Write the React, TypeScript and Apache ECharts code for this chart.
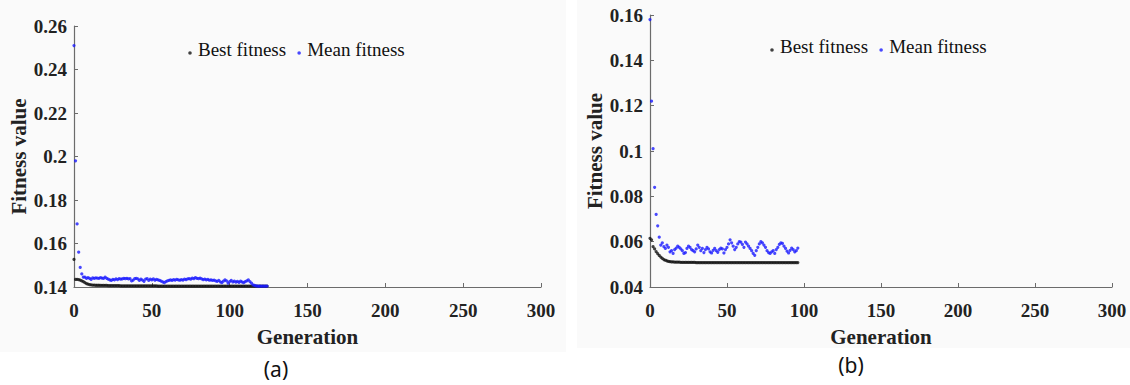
import React, { useEffect, useRef } from "react";
import * as echarts from "echarts";

// ---- Data: panel (a) ----
const bestA = [
  0.1527, 0.1435, 0.1435, 0.1434, 0.1432, 0.1428, 0.1425, 0.1420, 0.1416, 0.1413,
  0.1411, 0.1410, 0.1409, 0.1409, 0.1408, 0.1408, 0.1408, 0.1407, 0.1407, 0.1407,
  0.1407, 0.1407, 0.1406, 0.1406, 0.1406, 0.1406, 0.1406, 0.1406, 0.1406, 0.1406,
  0.1405, 0.1405, 0.1405, 0.1405, 0.1405, 0.1405, 0.1405, 0.1405, 0.1405, 0.1405,
  0.1405, 0.1405, 0.1405, 0.1405, 0.1405, 0.1405, 0.1405, 0.1405, 0.1405, 0.1405,
  0.1405, 0.1405, 0.1405, 0.1405, 0.1404, 0.1404, 0.1404, 0.1404, 0.1404, 0.1404,
  0.1404, 0.1404, 0.1404, 0.1404, 0.1404, 0.1404, 0.1404, 0.1404, 0.1404, 0.1404,
  0.1404, 0.1404, 0.1404, 0.1404, 0.1404, 0.1404, 0.1404, 0.1404, 0.1404, 0.1404,
  0.1404, 0.1404, 0.1404, 0.1404, 0.1404, 0.1404, 0.1404, 0.1404, 0.1404, 0.1404,
  0.1404, 0.1404, 0.1404, 0.1404, 0.1404, 0.1404, 0.1404, 0.1404, 0.1404, 0.1404,
  0.1404, 0.1404, 0.1404, 0.1404, 0.1404, 0.1404, 0.1404, 0.1404, 0.1404, 0.1404,
  0.1404, 0.1404, 0.1404, 0.1404, 0.1404, 0.1404, 0.1404, 0.1404, 0.1404, 0.1404,
  0.1404, 0.1404, 0.1404, 0.1404, 0.1404,
];
const meanA = [
  0.251, 0.198, 0.169, 0.156, 0.149, 0.146, 0.1445, 0.1445, 0.1440, 0.1443,
  0.1440, 0.1435, 0.1442, 0.1440, 0.1442, 0.1441, 0.1440, 0.1443, 0.1441, 0.1440,
  0.1445, 0.1440, 0.1436, 0.1433, 0.1430, 0.1435, 0.1433, 0.1437, 0.1434, 0.1438,
  0.1436, 0.1437, 0.1440, 0.1438, 0.1440, 0.1437, 0.1439, 0.1428, 0.1432, 0.1438,
  0.1440, 0.1437, 0.1430, 0.1436, 0.1432, 0.1426, 0.1436, 0.1438, 0.1430, 0.1436,
  0.1433, 0.1437, 0.1431, 0.1435, 0.1433, 0.1430, 0.1427, 0.1424, 0.1420, 0.1425,
  0.1428, 0.1430, 0.1433, 0.1430, 0.1434, 0.1432, 0.1435, 0.1433, 0.1431, 0.1434,
  0.1432, 0.1436, 0.1434, 0.1437, 0.1439, 0.1436, 0.1441, 0.1438, 0.1443, 0.1440,
  0.1438, 0.1441, 0.1437, 0.1434, 0.1436, 0.1433, 0.1435, 0.1431, 0.1433, 0.1430,
  0.1432, 0.1428, 0.1426, 0.1430, 0.1424, 0.1420, 0.1427, 0.1433, 0.1428, 0.1418,
  0.1425, 0.1430, 0.1423, 0.1427, 0.1422, 0.1426, 0.1421, 0.1427, 0.1423, 0.1420,
  0.1425, 0.1428, 0.1433, 0.1425, 0.1418, 0.1410, 0.1407, 0.1405, 0.1404, 0.1404,
  0.1404, 0.1404, 0.1404, 0.1404, 0.1404,
];

// ---- Data: panel (b) ----
const bestB = [
  0.0615, 0.0608, 0.0578, 0.0568, 0.0556, 0.0547, 0.0539, 0.0532, 0.0526, 0.0521,
  0.0518, 0.0515, 0.0513, 0.0512, 0.0511, 0.0511, 0.0510, 0.0510, 0.0510, 0.0510,
  0.0509, 0.0509, 0.0509, 0.0509, 0.0509, 0.0509, 0.0509, 0.0509, 0.0509, 0.0509,
  0.0508, 0.0508, 0.0508, 0.0508, 0.0508, 0.0508, 0.0508, 0.0508, 0.0508, 0.0508,
  0.0508, 0.0508, 0.0508, 0.0508, 0.0508, 0.0508, 0.0508, 0.0508, 0.0508, 0.0508,
  0.0508, 0.0508, 0.0508, 0.0508, 0.0508, 0.0508, 0.0508, 0.0508, 0.0508, 0.0508,
  0.0508, 0.0508, 0.0508, 0.0508, 0.0508, 0.0508, 0.0508, 0.0508, 0.0508, 0.0508,
  0.0508, 0.0508, 0.0508, 0.0508, 0.0508, 0.0508, 0.0508, 0.0508, 0.0508, 0.0508,
  0.0508, 0.0508, 0.0508, 0.0508, 0.0508, 0.0508, 0.0508, 0.0508, 0.0508, 0.0508,
  0.0508, 0.0508, 0.0508, 0.0508, 0.0508, 0.0508, 0.0508,
];
const meanB = [
  0.158, 0.122, 0.101, 0.084, 0.072, 0.067, 0.062, 0.0585, 0.0595, 0.0578,
  0.0570, 0.0585, 0.0575, 0.0555, 0.0560, 0.0548, 0.0565, 0.0572, 0.0580, 0.0575,
  0.0568, 0.0560, 0.0548, 0.0552, 0.0570, 0.0580, 0.0575, 0.0565, 0.0560, 0.0555,
  0.0568, 0.0585, 0.0575, 0.0560, 0.0570, 0.0552, 0.0565, 0.0575, 0.0568, 0.0555,
  0.0550, 0.0562, 0.0570, 0.0560, 0.0553, 0.0565, 0.0572, 0.0568, 0.0550, 0.0565,
  0.0575, 0.0590, 0.0608, 0.0595, 0.0580, 0.0565, 0.0575, 0.0590, 0.0600, 0.0598,
  0.0588, 0.0575, 0.0598, 0.0590, 0.0580, 0.0570, 0.0560, 0.0548, 0.0540, 0.0560,
  0.0575, 0.0590, 0.0600, 0.0595, 0.0585, 0.0575, 0.0560, 0.0552, 0.0548, 0.0555,
  0.0560, 0.0548, 0.0565, 0.0575, 0.0588, 0.0595, 0.0592, 0.0580, 0.0570, 0.0558,
  0.0550, 0.0562, 0.0572, 0.0565, 0.0555, 0.0560, 0.0572,
];

const xTicks = { min: 0, max: 300, interval: 50 };
const yRangeA = { min: 0.14, max: 0.26, interval: 0.02 };
const yRangeB = { min: 0.04, max: 0.16, interval: 0.02 };
const seriesNames = ["Best fitness", "Mean fitness"];
const panelLabels = ["(a)", "(b)"];

const SERIF = "'Liberation Serif', 'Times New Roman', serif";
// legend marker: a dot sitting low in a tall, otherwise empty box (like a "." glyph)
const DOT_ICON =
  "path://M0,0L6,0L6,0.01L0,0.01Z M1.2,14a1.8,1.8 0 1,0 3.6,0a1.8,1.8 0 1,0 -3.6,0Z M0,20L6,20L6,20.01L0,20.01Z";

export default function App() {
  const ref = useRef<HTMLDivElement>(null);

  useEffect(() => {
    document.body.style.margin = "0";
    if (!ref.current) return;
    const chart = echarts.init(ref.current, undefined, { renderer: "svg" });

    const toPts = (arr: number[]) => arr.map((v, i) => [i, v]);
    const fmt = (v: number) => String(+v.toFixed(2));

    const axisLine = { show: true, lineStyle: { color: "#6b6b6b", width: 1.2 } };
    const axisTick = { show: true, inside: true, length: 4, lineStyle: { color: "#6b6b6b" } };
    const tickLabel = {
      fontFamily: SERIF,
      fontWeight: "bold" as const,
      fontSize: 19,
      color: "#222",
    };
    const nameStyle = {
      fontFamily: SERIF,
      fontWeight: "bold" as const,
      fontSize: 21,
      color: "#222",
    };

    const mkX = (gridIndex: number) => ({
      type: "value" as const,
      gridIndex,
      ...xTicks,
      axisLine,
      axisTick,
      splitLine: { show: false },
      axisLabel: { ...tickLabel, margin: 14 },
      name: "Generation",
      nameLocation: "middle" as const,
      nameGap: 39,
      nameTextStyle: nameStyle,
    });
    const mkY = (gridIndex: number, r: typeof yRangeA) => ({
      type: "value" as const,
      gridIndex,
      ...r,
      axisLine,
      axisTick,
      splitLine: { show: false },
      axisLabel: { ...tickLabel, margin: 7, formatter: fmt },
      name: "Fitness value",
      nameLocation: "middle" as const,
      nameGap: 45,
      nameTextStyle: nameStyle,
    });

    const legendCommon = {
      orient: "horizontal" as const,
      icon: DOT_ICON,
      itemWidth: 6,
      itemHeight: 20,
      itemGap: 10,
      data: seriesNames,
      selectedMode: false,
      textStyle: {
        fontFamily: SERIF,
        fontSize: 19,
        color: "#111",
      },
    };

    chart.setOption({
      animation: false,
      backgroundColor: "#ffffff",
      graphic: [
        { type: "rect", shape: { x: 0, y: 0, width: 566, height: 352 }, style: { fill: "#fafafa" }, z: -10, silent: true },
        { type: "rect", shape: { x: 577, y: 0, width: 553, height: 348 }, style: { fill: "#fafafa" }, z: -10, silent: true },
        {
          type: "text",
          x: 276,
          y: 369,
          style: { text: panelLabels[0], fontFamily: "'Noto Sans', 'Open Sans', sans-serif", fontSize: 21, fill: "#111", align: "center", verticalAlign: "middle" },
        },
        {
          type: "text",
          x: 851,
          y: 365,
          style: { text: panelLabels[1], fontFamily: "'Noto Sans', 'Open Sans', sans-serif", fontSize: 21, fill: "#111", align: "center", verticalAlign: "middle" },
        },
      ],
      legend: [
        { ...legendCommon, left: 182, top: 34 },
        { ...legendCommon, left: 764, top: 31 },
      ],
      grid: [
        { left: 74, top: 26, width: 467, height: 261 },
        { left: 650, top: 15, width: 462, height: 272 },
      ],
      xAxis: [mkX(0), mkX(1)],
      yAxis: [mkY(0, yRangeA), mkY(1, yRangeB)],
      series: [
        {
          type: "scatter", name: seriesNames[0], xAxisIndex: 0, yAxisIndex: 0,
          data: toPts(bestA), symbolSize: 3.2, itemStyle: { color: "#111" }, clip: false,
        },
        {
          type: "scatter", name: seriesNames[1], xAxisIndex: 0, yAxisIndex: 0,
          data: toPts(meanA), symbolSize: 3.2, itemStyle: { color: "#1a1aff" }, clip: false,
        },
        {
          type: "scatter", name: seriesNames[0], xAxisIndex: 1, yAxisIndex: 1,
          data: toPts(bestB), symbolSize: 3.2, itemStyle: { color: "#111" }, clip: false,
        },
        {
          type: "scatter", name: seriesNames[1], xAxisIndex: 1, yAxisIndex: 1,
          data: toPts(meanB), symbolSize: 3.2, itemStyle: { color: "#1a1aff" }, clip: false,
        },
      ],
    });

    return () => chart.dispose();
  }, []);

  return <div ref={ref} style={{ width: 1130, height: 385 }} />;
}
